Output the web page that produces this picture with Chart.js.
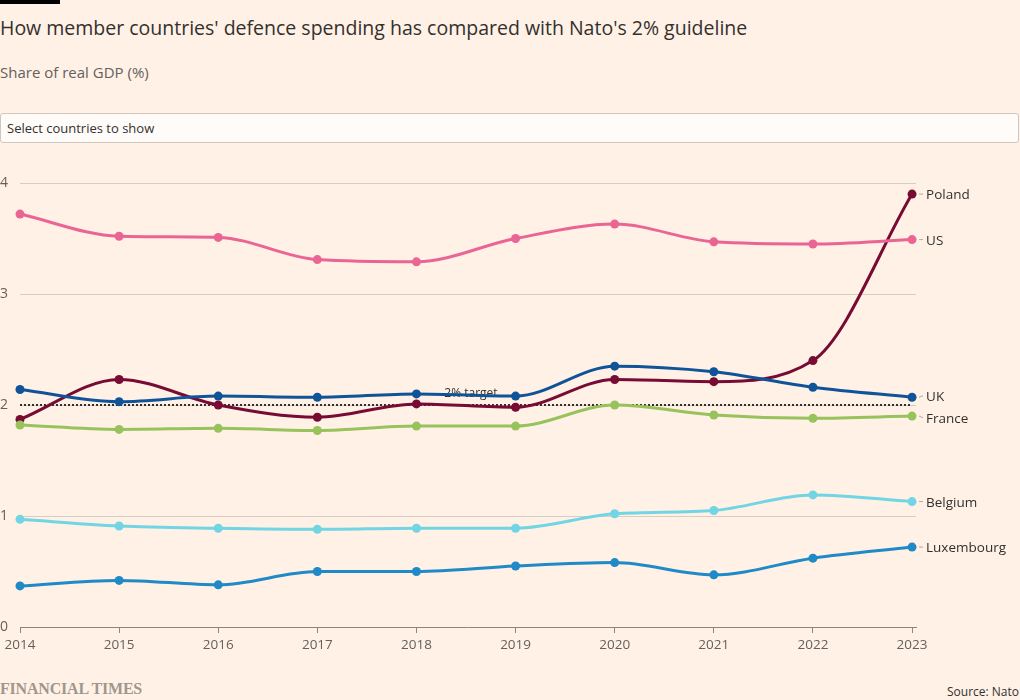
<!DOCTYPE html>
<html>
<head>
<meta charset="utf-8">
<script src="https://cdn.jsdelivr.net/npm/chart.js@4"></script>
<style>
    body {
        margin: 0;
        width: 1020px;
        height: 700px;
        overflow: hidden;
        position: relative;
        background: #fff1e5;
        color: #33302e;
        font-family: 'Open Sans', sans-serif;
    }
    .topbar { position: absolute; left: 0; top: 0; width: 60px; height: 4px; background: #000; }
    h1 { position: absolute; left: 0; top: 14px; margin: 0; font-size: 19.5px; font-weight: 400; }
    .sub { position: absolute; left: 0; top: 62px; font-size: 15px; color: #66605c; }
    .select {
        position: absolute; left: 0; top: 113px; width: 1019px; height: 30px;
        box-sizing: border-box; border: 1px solid #cfc6bd; border-radius: 3px;
        background: #fffbf8; font-size: 13px; line-height: 28px; padding-left: 6px;
    }
    #wrap { position: absolute; left: 0; top: 160px; width: 1020px; height: 510px; }
    .ft {
        position: absolute; left: 0; top: 680px; font-family: 'Liberation Serif', serif;
        font-size: 16px; font-weight: bold; color: #a0968e; letter-spacing: -0.2px;
    }
    .src { position: absolute; right: 1px; top: 683px; font-size: 12px; color: #33302e; }
</style>
</head>
<body>
<div class="topbar"></div>
<h1>How member countries' defence spending has compared with Nato's 2% guideline</h1>
<div class="sub">Share of real GDP (%)</div>
<div class="select">Select countries to show</div>
<div id="wrap"><canvas id="chart"></canvas></div>
<div class="ft">FINANCIAL TIMES</div>
<div class="src">Source: Nato</div>

<script>
// Data (share of real GDP, %)
const years = [2014, 2015, 2016, 2017, 2018, 2019, 2020, 2021, 2022, 2023];
const luxembourg = [0.37, 0.42, 0.38, 0.50, 0.50, 0.55, 0.58, 0.47, 0.62, 0.72];
const belgium    = [0.97, 0.91, 0.89, 0.88, 0.89, 0.89, 1.02, 1.05, 1.19, 1.13];
const france     = [1.82, 1.78, 1.79, 1.77, 1.81, 1.81, 2.00, 1.91, 1.88, 1.90];
const uk         = [2.14, 2.03, 2.08, 2.07, 2.10, 2.08, 2.35, 2.30, 2.16, 2.07];
const us         = [3.72, 3.52, 3.51, 3.31, 3.29, 3.50, 3.63, 3.47, 3.45, 3.49];
const poland     = [1.87, 2.23, 2.00, 1.89, 2.01, 1.98, 2.23, 2.21, 2.40, 3.90];
const yTicks = [0, 1, 2, 3, 4];
const targetValue = 2;
const targetLabel = '2% target';

const seriesList = [
    { name: 'Luxembourg', values: luxembourg, colour: '#2089c8' },
    { name: 'Belgium', values: belgium, colour: '#72d5e3' },
    { name: 'France', values: france, colour: '#98c25c' },
    { name: 'UK', values: uk, colour: '#0f5499' },
    { name: 'US', values: us, colour: '#ea6593' },
    { name: 'Poland', values: poland, colour: '#770b34' }
];

const TEXT = '#33302e';
const MUTED = '#66605c';
const FONT = "'Open Sans', sans-serif";

// dotted 2% line, drawn under the series
const targetPlugin = {
    id: 'targetLine',
    beforeDatasetsDraw: function(chart) {
        const ctx = chart.ctx;
        const x = chart.scales.x;
        const y = chart.scales.y.getPixelForValue(targetValue);
        ctx.save();
        ctx.strokeStyle = TEXT;
        ctx.lineWidth = 2;
        ctx.setLineDash([2, 2]);
        ctx.beginPath();
        ctx.moveTo(x.getPixelForValue(years[0]), y);
        ctx.lineTo(x.getPixelForValue(years[years.length - 1]), y);
        ctx.stroke();
        ctx.setLineDash([]);
        ctx.fillStyle = TEXT;
        ctx.font = '12px ' + FONT;
        ctx.textAlign = 'center';
        ctx.textBaseline = 'bottom';
        ctx.fillText(targetLabel, x.getPixelForValue(2018.55), y - 5);
        ctx.restore();
    }
};

// country names at the end of each line
const endLabelPlugin = {
    id: 'endLabels',
    afterDatasetsDraw: function(chart) {
        const ctx = chart.ctx;
        const items = chart.data.datasets.map((ds, i) => {
            const pts = chart.getDatasetMeta(i).data;
            const last = pts[pts.length - 1];
            return { name: ds.label, x: last.x, y: last.y, ly: last.y };
        }).sort((a, b) => a.y - b.y);

        // push apart labels that are too close
        const gap = 22;
        for (let k = 0; k < 20; k++) {
            for (let i = 1; i < items.length; i++) {
                const d = items[i].ly - items[i - 1].ly;
                if (d < gap) {
                    const shift = (gap - d) / 2;
                    items[i].ly += shift;
                    items[i - 1].ly -= shift;
                }
            }
        }

        ctx.save();
        ctx.font = '500 13.5px ' + FONT;
        ctx.fillStyle = TEXT;
        ctx.textAlign = 'left';
        ctx.textBaseline = 'middle';
        items.forEach(it => {
            ctx.strokeStyle = '#b3aaa2';
            ctx.lineWidth = 1;
            ctx.beginPath();
            ctx.moveTo(it.x + 7, it.y);
            ctx.lineTo(it.x + 11, it.ly);
            ctx.stroke();
            ctx.fillText(it.name, it.x + 14, it.ly + 1.5);
        });
        ctx.restore();
    }
};

const ctx = document.getElementById('chart').getContext('2d');

new Chart(ctx, {
    type: 'line',
    data: {
        datasets: seriesList.map(s => ({
            label: s.name,
            data: years.map((yr, i) => ({ x: yr, y: s.values[i] })),
            borderColor: s.colour,
            backgroundColor: s.colour,
            borderWidth: 3,
            pointRadius: 4.5,
            pointBorderWidth: 0,
            pointHoverRadius: 4.5,
            cubicInterpolationMode: 'monotone',
            clip: false
        }))
    },
    options: {
        responsive: true,
        maintainAspectRatio: false,
        animation: false,
        events: [],
        layout: {
            padding: { top: 23, right: 104, left: 0, bottom: 0 }
        },
        plugins: {
            legend: { display: false },
            tooltip: { enabled: false }
        },
        scales: {
            x: {
                type: 'linear',
                min: years[0],
                max: years[years.length - 1] + 0.04,
                afterBuildTicks: function(scale) {
                    scale.ticks = years.map(v => ({ value: v }));
                },
                afterFit: function(scale) {
                    scale.height = 43;
                },
                ticks: {
                    callback: v => String(v),
                    color: MUTED,
                    font: { family: FONT, size: 13.5 },
                    padding: 4,
                    maxRotation: 0,
                    autoSkip: false
                },
                grid: {
                    drawOnChartArea: false,
                    drawTicks: true,
                    tickLength: 6,
                    tickColor: '#8f8580'
                },
                border: { display: true, color: '#8f8580', width: 1 }
            },
            y: {
                min: yTicks[0],
                max: yTicks[yTicks.length - 1],
                afterBuildTicks: function(scale) {
                    scale.ticks = yTicks.map(v => ({ value: v }));
                },
                afterFit: function(scale) {
                    scale.width = 20;
                },
                ticks: {
                    color: MUTED,
                    font: { family: FONT, size: 14 },
                    crossAlign: 'far',
                    padding: 0
                },
                grid: {
                    color: '#d8cdc3',
                    drawTicks: false
                },
                border: { display: false }
            }
        }
    },
    plugins: [targetPlugin, endLabelPlugin]
});
</script>
</body>
</html>
